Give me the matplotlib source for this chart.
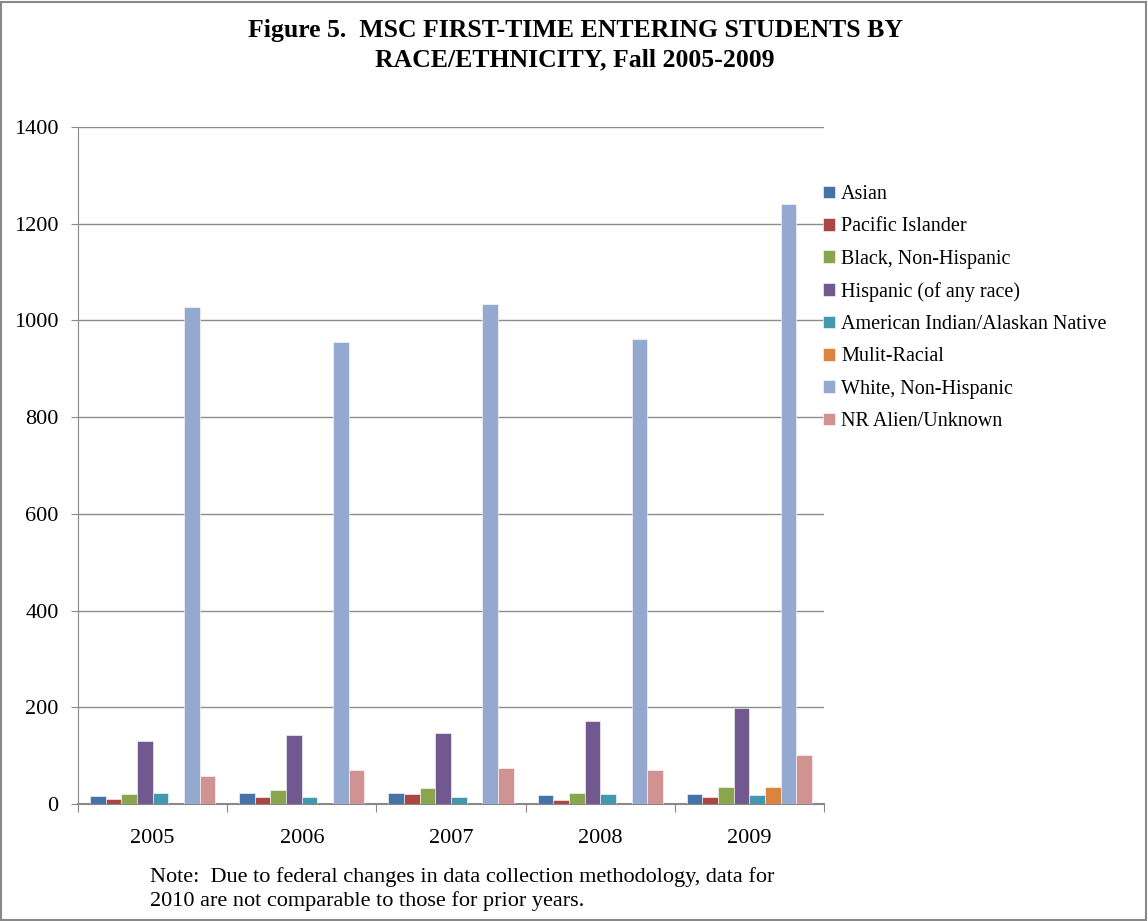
import numpy as np
import matplotlib.pyplot as plt
from matplotlib.patches import Rectangle

plt.rcParams['font.family'] = ['Liberation Serif', 'DejaVu Serif']

years = ['2005', '2006', '2007', '2008', '2009']
groups = ['Asian', 'Pacific Islander', 'Black, Non-Hispanic', 'Hispanic (of any race)',
          'American Indian/Alaskan Native', 'Mulit-Racial', 'White, Non-Hispanic',
          'NR Alien/Unknown']

asian = [16, 23, 23, 19, 21]
pacific = [10, 15, 21, 9, 15]
black = [21, 29, 34, 23, 36]
hispanic = [130, 143, 146, 172, 198]
am_indian = [23, 15, 15, 21, 19]
multi = [0, 0, 0, 0, 36]
white = [1028, 955, 1033, 962, 1240]
nr_alien = [57, 70, 75, 70, 102]

series = [asian, pacific, black, hispanic, am_indian, multi, white, nr_alien]
colors = ['#4573A7', '#AA4643', '#89A54E', '#71588F', '#4198AF', '#DB843D', '#93A9CF', '#D19392']

fig = plt.figure(figsize=(11.48, 9.21), dpi=100)
ax = fig.add_axes([78/1148, 1 - 804/921, (824-78)/1148, (804-127)/921])

x = np.arange(len(years))
w = 0.105
for i, (vals, c, lab) in enumerate(zip(series, colors, groups)):
    ax.bar(x + (i - 3.5) * w, vals, w, color=c, label=lab, edgecolor='white', linewidth=0.4, zorder=3)

ax.set_ylim(0, 1400)
ax.set_yticks(range(0, 1401, 200))
ax.set_xlim(-0.5, 4.5)
ax.set_xticks(np.arange(-0.5, 4.6, 1))
ax.set_xticklabels([])
ax.set_xticks(x, minor=True)
ax.set_xticklabels(years, minor=True)
ax.tick_params(axis='x', which='minor', length=0, pad=18, labelsize=16)
ax.tick_params(axis='x', which='major', length=6, color='#888888', direction='out')
ax.tick_params(axis='y', length=5, color='#888888', labelsize=16, pad=9)
ax.yaxis.grid(True, color='#8c8c8c', linewidth=1)
ax.set_axisbelow(True)
for s in ['top', 'right']:
    ax.spines[s].set_visible(False)
ax.spines['left'].set_color('#888888')
ax.spines['bottom'].set_color('#888888')
ax.spines['bottom'].set_linewidth(1.5)

fig.text(575/1148, 1 - 30/921, 'Figure 5.  MSC FIRST-TIME ENTERING STUDENTS BY',
         ha='center', va='center', fontsize=18.5, fontweight='bold')
fig.text(575/1148, 1 - 60/921, 'RACE/ETHNICITY, Fall 2005-2009',
         ha='center', va='center', fontsize=18.5, fontweight='bold')

fig.legend(loc='upper left', bbox_to_anchor=(815/1148, 1 - 177/921), frameon=False,
           fontsize=14.5, handlelength=0.6, handleheight=0.6, handletextpad=0.3,
           labelspacing=0.66, borderaxespad=0)

fig.text(150/1148, 1 - 877/921, 'Note:  Due to federal changes in data collection methodology, data for',
         ha='left', va='center', fontsize=16)
fig.text(150/1148, 1 - 901/921, '2010 are not comparable to those for prior years.',
         ha='left', va='center', fontsize=16)

fig.patches.append(Rectangle((0.001, 0.001), 0.997, 0.997, transform=fig.transFigure,
                             fill=False, edgecolor='#888888', linewidth=1.5))

fig.savefig('out.png', dpi=100)
